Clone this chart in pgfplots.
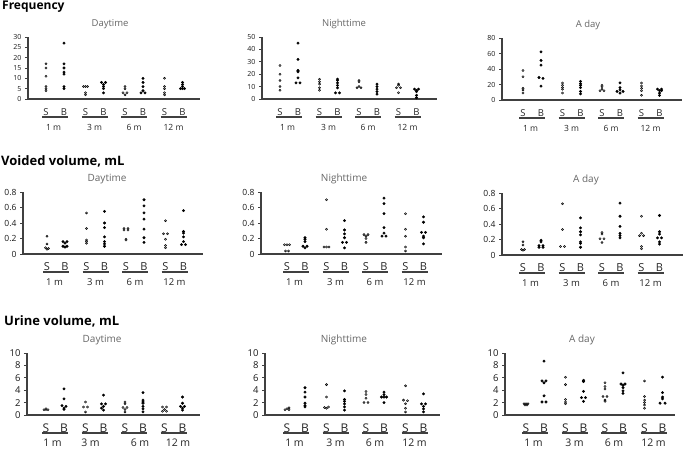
\documentclass[border=0pt]{standalone}
\usepackage{fontspec}
\setmainfont{Open Sans}
\usepackage{pgfplots}
\pgfplotsset{compat=1.18}

\tikzset{uline/.style={black!75, line width=1.6pt}}
\pgfplotsset{
  base/.style={scale only axis, height=62pt, ymin=0, anchor=south west,
    axis x line*=bottom, axis y line*=left,
    axis line style={black!75, line width=1.3pt},
    tick align=outside, major tick length=3pt,
    ytick style={black!75, line width=0.9pt}, xtick style={draw=none},
    xtick={0,18,39.5,57.5,79,97,118.5,136.5},
    xticklabels={S,B,S,B,S,B,S,B},
    xticklabel style={anchor=center, yshift=-10pt, text=black!85},
    yticklabel style={text=black!90},
    clip=false,
    title style={anchor=center, yshift=7pt, text=black!60},
    /pgf/number format/assume math mode=true},
  r1/.style={base, yticklabel style={font=\fontsize{7}{8}\selectfont},
    xticklabel style={font=\fontsize{9.5}{11}\selectfont},
    title style={font=\fontsize{9.5}{11}\selectfont}},
  r2/.style={base, yticklabel style={font=\fontsize{8.5}{10}\selectfont},
    xticklabel style={font=\fontsize{11}{12}\selectfont},
    title style={font=\fontsize{10}{12}\selectfont}},
  r3/.style={base, yticklabel style={font=\fontsize{9.5}{11}\selectfont},
    xticklabel style={font=\fontsize{12}{14}\selectfont},
    title style={font=\fontsize{10}{12}\selectfont}},
  sS/.style={only marks, mark=*, mark size=1.1pt, mark options={draw=none, fill=black!35}},
  sB/.style={only marks, mark=*, mark size=1.25pt, mark options={draw=none, fill=black}},
}

% underlines and month labels under each S/B pair
% #1 font, #2-#5 x of the month labels
\newcommand{\grp}[5]{%
  \draw[uline] ([yshift=-18pt]axis cs:-4,0) -- ([yshift=-18pt]axis cs:22,0);
  \draw[uline] ([yshift=-18pt]axis cs:35.5,0) -- ([yshift=-18pt]axis cs:61.5,0);
  \draw[uline] ([yshift=-18pt]axis cs:75,0) -- ([yshift=-18pt]axis cs:101,0);
  \draw[uline] ([yshift=-18pt]axis cs:114.5,0) -- ([yshift=-18pt]axis cs:140.5,0);
  \node[font=#1, text=black!85] at ([yshift=-28pt]axis cs:#2,0) {1 m};
  \node[font=#1, text=black!85] at ([yshift=-28pt]axis cs:#3,0) {3 m};
  \node[font=#1, text=black!85] at ([yshift=-28pt]axis cs:#4,0) {6 m};
  \node[font=#1, text=black!85] at ([yshift=-28pt]axis cs:#5,0) {12 m};
}
\newcommand{\fA}{\fontsize{8.5}{10}\selectfont}
\newcommand{\fB}{\fontsize{9.5}{11}\selectfont}
\newcommand{\fC}{\fontsize{10.5}{12}\selectfont}

\begin{document}
\begin{tikzpicture}[x=1pt,y=1pt]
\useasboundingbox (0,0) rectangle (685,448);

\node[anchor=base west, inner sep=0pt, font=\fontsize{12}{14}\selectfont\bfseries] at (2,438) {Frequency};
\node[anchor=base west, inner sep=0pt, font=\fontsize{13}{15}\selectfont\bfseries] at (1,283) {Voided volume, mL};
\node[anchor=base west, inner sep=0pt, font=\fontsize{13}{15}\selectfont\bfseries] at (4,123) {Urine volume, mL};

% ---------- Frequency ----------
\begin{axis}[r1, at={(28pt,349pt)}, width=172pt, xmin=-18, xmax=154,
  ymax=30, ytick={0,5,...,30}, title={Daytime}, title style={at={(0.477,1)}}]
\addplot[sS] coordinates {(0,17)(0,15)(0,11)(0,6)(0,5)(0,4)
  (37.5,6)(39.5,6)(41.5,6)(39.5,3)(39.5,2)
  (79,6)(79,5)(77,3)(81,3)(79,2)
  (118.5,10)(118.5,6)(118.5,5)(118.5,3)(118.5,2)};
\addplot[sB] coordinates {(18,27)(18,17)(18,15)(18,13)(18,12)(18,6)(18,5)
  (55.5,8)(59.5,8)(57.5,7)(57.5,6)(57.5,5)(57.5,3)
  (97,10)(97,8)(97,6)(97,4)(95,3)(99,3)
  (136.5,8)(136.5,7)(136.5,6)(134.5,5)(136.5,5)(138.5,5)};
\grp{\fA}{7.5}{48.5}{88}{127.5}
\end{axis}

\begin{axis}[r1, at={(262pt,349pt)}, width=175pt, xmin=-18, xmax=157,
  ymax=50, ytick={0,10,...,50}, title={Nighttime}, title style={at={(0.469,1)}}]
\addplot[sS] coordinates {(0,27)(0,20)(0,15)(0,10)(0,7)
  (39.5,16)(39.5,14)(39.5,12)(39.5,9)(39.5,7)
  (79,15)(79,14)(79,10)(77,9)(81,9)
  (118.5,12)(118.5,11)(116.5,9)(120.5,9)(118.5,5)};
\addplot[sB] coordinates {(18,45)(18,32)(18,23)(18,22)(18,17)(16,13)(20,13)
  (57.5,16)(57.5,15)(57.5,13)(57.5,11)(57.5,9)(55.5,5)(59.5,5)
  (97,12)(97,10)(97,8)(97,6)(97,4)
  (134.5,8)(138.5,8)(136.5,7)(136.5,6)(136.5,3)(136.5,1)};
\grp{\fA}{7.5}{48.5}{88}{127.5}
\end{axis}

\begin{axis}[r1, at={(502pt,348pt)}, width=180pt, xmin=-21, xmax=159,
  ymax=80, ytick={0,20,...,80}, title={A day}, title style={at={(0.478,1)}}]
\addplot[sS] coordinates {(0,38)(0,30)(0,15)(0,13)(0,9)
  (39.5,22)(39.5,19)(39.5,16)(39.5,14)(39.5,9)
  (79,19)(79,17)(79,14)(77,12)(81,12)
  (118.5,22)(118.5,18)(118.5,15)(118.5,12)(118.5,6)};
\addplot[sB] coordinates {(18,62)(18,51)(18,45)(16,29)(20,28)(18,18)
  (57.5,24)(57.5,21)(57.5,19)(57.5,16)(57.5,11)(57.5,8)
  (97,22)(97,16)(97,13)(94,11)(100,11)(97,9)
  (134.5,14)(138.5,14)(136.5,12)(138.5,12)(136.5,9)(136.5,6)};
\grp{\fA}{7.5}{48.5}{88}{127.5}
\end{axis}

% ---------- Voided volume ----------
\begin{axis}[r2, at={(23pt,194pt)}, width=180pt, xmin=-24, xmax=156,
  ymax=0.8, ytick={0,0.2,0.4,0.6,0.8}, yticklabels={0,0.2,0.4,0.6,0.8},
  title={Daytime}, title style={at={(0.467,1)}}]
\addplot[sS] coordinates {(0,0.23)(0,0.13)(-1.5,0.08)(1.5,0.07)(0,0.06)
  (39.5,0.53)(39.5,0.33)(39.5,0.18)(39.5,0.16)(39.5,0.14)
  (77,0.33)(81,0.33)(77,0.31)(81,0.31)(79,0.19)(79,0.18)
  (118.5,0.43)(116.5,0.26)(120.5,0.26)(118.5,0.19)(118.5,0.11)(118.5,0.08)};
\addplot[sB] coordinates {(16,0.16)(20,0.16)(18,0.14)(16,0.10)(20,0.10)(18,0.09)
  (57.5,0.55)(57.5,0.40)(57.5,0.34)(57.5,0.22)(57.5,0.16)(57.5,0.13)(57.5,0.10)
  (97,0.70)(97,0.62)(97,0.53)(97,0.45)(97,0.32)(97,0.21)(97,0.15)
  (136.5,0.56)(136.5,0.29)(136.5,0.27)(136.5,0.22)(136.5,0.16)(134.5,0.12)(138.5,0.12)};
\grp{\fB}{7.5}{48.5}{88}{127.5}
\end{axis}

\begin{axis}[r2, at={(261pt,194pt)}, width=181pt, xmin=-26, xmax=155,
  ymax=0.8, ytick={0,0.2,0.4,0.6,0.8}, yticklabels={0,0.2,0.4,0.6,0.8},
  title={Nighttime}, title style={at={(0.459,1)}}]
\addplot[sS] coordinates {(-2.5,0.12)(0,0.12)(2.5,0.12)(-1.5,0.04)(1.5,0.04)
  (39.5,0.70)(39.5,0.32)(37,0.09)(39.5,0.09)(42,0.09)
  (77,0.25)(81,0.25)(79,0.23)(79,0.20)(79,0.15)
  (118.5,0.52)(118.5,0.32)(118.5,0.23)(118.5,0.09)(118.5,0.04)};
\addplot[sB] coordinates {(18,0.21)(18,0.19)(18,0.16)(16,0.10)(20,0.10)(18,0.08)
  (57.5,0.43)(57.5,0.31)(57.5,0.26)(57.5,0.21)(55.5,0.15)(59.5,0.15)(57.5,0.08)
  (97,0.72)(97,0.65)(97,0.52)(97,0.34)(97,0.27)(95,0.23)(99,0.23)
  (136.5,0.48)(136.5,0.41)(134.5,0.28)(138.5,0.28)(136.5,0.23)(136.5,0.21)(136.5,0.13)};
\grp{\fB}{7.5}{48.5}{88}{127.5}
\end{axis}

\begin{axis}[r2, at={(502pt,193pt)}, width=181pt, xmin=-21, xmax=160,
  ymax=0.8, ytick={0,0.2,0.4,0.6,0.8}, yticklabels={0,0.2,0.4,0.6,0.8},
  title={A day}, title style={at={(0.464,1)}}]
\addplot[sS] coordinates {(0,0.17)(0,0.13)(-1.5,0.07)(1.5,0.07)(0,0.06)
  (39.5,0.66)(39.5,0.33)(37.5,0.11)(41.5,0.11)
  (79,0.29)(79,0.27)(77,0.21)(81,0.21)(79,0.16)
  (118.5,0.50)(118.5,0.28)(116.5,0.25)(120.5,0.25)(118.5,0.11)(118.5,0.08)};
\addplot[sB] coordinates {(18,0.19)(18,0.17)(16,0.12)(20,0.12)(16,0.10)(20,0.10)
  (57.5,0.48)(57.5,0.35)(57.5,0.30)(57.5,0.26)(57.5,0.17)(57.5,0.15)(57.5,0.10)
  (97,0.67)(97,0.50)(97,0.37)(97,0.28)(97,0.25)(97,0.22)
  (136.5,0.51)(136.5,0.30)(136.5,0.27)(134.5,0.22)(138.5,0.22)(136.5,0.17)(136.5,0.14)};
\grp{\fB}{7.5}{48.5}{88}{127.5}
\end{axis}

% ---------- Urine volume ----------
\begin{axis}[r3, at={(27pt,33pt)}, width=173pt, xmin=-19, xmax=154,
  ymax=10, ytick={0,2,...,10}, title={Daytime}, title style={at={(0.434,1)}}]
\addplot[sS] coordinates {(-2,0.85)(0,0.9)(2,0.85)(0,1.0)
  (39.5,2.1)(37.5,1.3)(41.5,1.3)(39.5,0.5)
  (79,2.1)(79,1.8)(77,1.2)(81,1.2)(79,0.9)(79,0.5)
  (116.5,1.3)(120.5,1.3)(118.5,0.9)(116.5,0.6)(120.5,0.6)};
\addplot[sB] coordinates {(18,4.2)(18,2.6)(16,1.5)(20,1.4)(18,1.1)(18,0.9)
  (57.5,3.2)(55.5,1.8)(59.5,1.8)(57.5,1.4)(55.5,1.1)(57.5,0.8)
  (97,3.6)(97,2.4)(97,2.1)(97,1.9)(97,1.4)(97,1.0)(97,0.5)
  (136.5,2.9)(136.5,1.9)(134.5,1.4)(138.5,1.4)(136.5,1.1)(136.5,0.8)};
\grp{\fC}{6.5}{44.5}{94}{132}
\end{axis}

\begin{axis}[r3, at={(265pt,33pt)}, width=175pt, xmin=-22, xmax=153,
  ymax=10, ytick={0,2,...,10}, title={Nighttime}, title style={at={(0.451,1)}}]
\addplot[sS] coordinates {(-2,0.85)(0,1.0)(2,1.15)(2,0.85)
  (39.5,4.9)(39.5,2.9)(37.5,1.2)(41.5,1.3)(39.5,1.1)
  (79,3.8)(79,3.3)(79,2.7)(77,2.0)(81,2.0)
  (118.5,4.7)(116.5,2.4)(120.5,2.3)(118.5,1.8)(118.5,1.1)(118.5,0.5)};
\addplot[sB] coordinates {(18,4.4)(18,3.7)(18,2.9)(18,1.9)(18,1.5)(18,1.3)
  (57.5,3.9)(57.5,2.5)(57.5,2.2)(57.5,1.8)(57.5,1.3)(57.5,0.8)
  (97,3.7)(97,3.3)(94.5,2.9)(97,2.9)(99.5,2.9)(97,2.0)
  (136.5,3.4)(134.5,1.8)(138.5,1.8)(136.5,1.4)(136.5,1.0)(136.5,0.5)};
\grp{\fC}{7.5}{48.5}{88}{127.5}
\end{axis}

\begin{axis}[r3, at={(505pt,33pt)}, width=170pt, xmin=-21, xmax=149,
  ymax=10, ytick={0,2,...,10}, title={A day}, title style={at={(0.453,1)}}]
\addplot[sS] coordinates {(-2,1.8)(0,1.8)(2,1.8)(-1,1.6)(1,1.6)
  (39.5,6.1)(39.5,4.9)(39.5,2.5)(39.5,2.1)(39.5,1.8)
  (79,5.2)(79,4.6)(79,4.2)(77,3.0)(81,3.0)(79,2.4)(79,2.2)
  (118.5,5.5)(118.5,3.0)(118.5,2.4)(118.5,2.0)(118.5,1.6)(118.5,1.1)};
\addplot[sB] coordinates {(18,8.7)(16,5.5)(20,5.5)(18,5.2)(18,3.1)(16,2.1)(20,2.1)
  (57.5,5.6)(57.5,5.4)(57.5,3.8)(55.5,2.8)(59.5,2.8)(57.5,2.2)
  (97,6.8)(95,5.0)(99,5.0)(97,4.8)(97,4.4)(97,3.9)(97,3.5)
  (136.5,6.1)(136.5,3.6)(136.5,2.9)(136.5,2.6)(134,1.9)(139,1.9)};
\grp{\fC}{7.5}{48.5}{88}{127.5}
\end{axis}

\end{tikzpicture}
\end{document}
